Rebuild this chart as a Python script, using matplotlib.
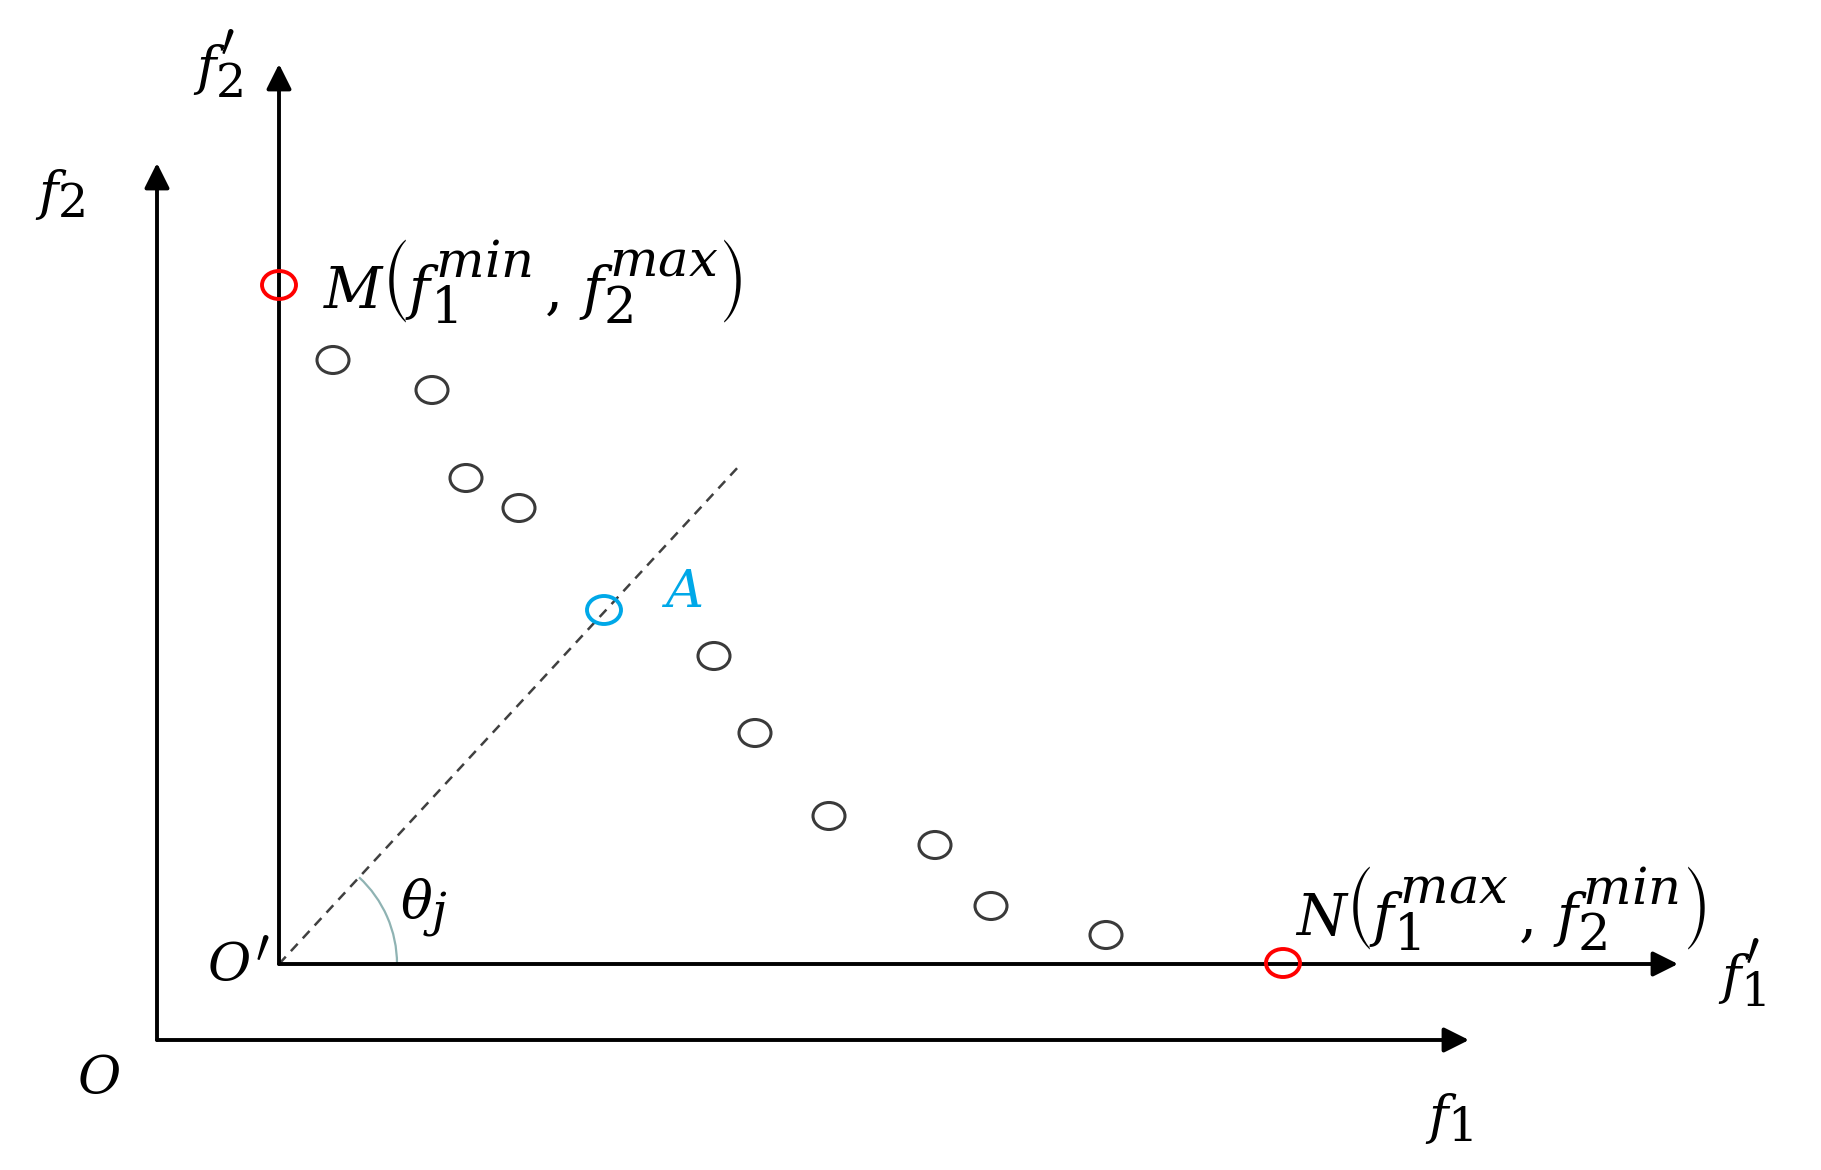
import matplotlib
matplotlib.use("Agg")
import matplotlib.pyplot as plt
import matplotlib._mathtext as mtext
from matplotlib.patches import Ellipse, Arc
import numpy as np

plt.rcParams["mathtext.fontset"] = "dejavuserif"
# bigger sub/superscripts, closer to the Cambria Math look of the original
mtext.SHRINK_FACTOR = 0.9

# -----------------------------
# diagram data (units = pixels from outer origin O, y up)
# -----------------------------
origin_inner = (122, 76)            # O'
outer_x_end, outer_y_end = 1312, 877
inner_x_end, inner_y_end = 1521, 976

pareto_x = [176, 275, 309, 362, 557, 598, 672, 778, 834, 949]
pareto_y = [680, 650, 562, 532, 384, 307, 224, 195, 134, 105]

extreme_x = [122, 1126]             # M, N
extreme_y = [755, 77]

point_A = (447, 430)
ray_end = (583, 575)

fig = plt.figure(figsize=(18.21, 11.70), dpi=100)
ax = fig.add_axes([0, 0, 1, 1])
ax.set_xlim(-157, 1821 - 157)
ax.set_ylim(1040 - 1170, 1040)
ax.axis("off")

def arrow(x0, y0, x1, y1):
    ax.annotate("", xy=(x1, y1), xytext=(x0, y0),
                arrowprops=dict(arrowstyle="-|>", lw=2.8, color="black",
                                mutation_scale=38, shrinkA=0, shrinkB=0))

# outer axes f1, f2
arrow(0, 0, outer_x_end, 0)
arrow(0, 0, 0, outer_y_end)
# inner axes f1', f2'
ox, oy = origin_inner
arrow(ox, oy, inner_x_end, oy)
arrow(ox, oy, ox, inner_y_end)

# reference ray through A
ax.plot([ox, ray_end[0]], [oy, ray_end[1]], ls=(0, (4, 3)), color="#404040", lw=1.8)
ang = np.degrees(np.arctan2(ray_end[1] - oy, ray_end[0] - ox))
ax.add_patch(Arc((ox, oy), 236, 236, theta1=0, theta2=ang, color="#8fb3b3", lw=1.6))

for x, y in zip(pareto_x, pareto_y):
    ax.add_patch(Ellipse((x, y), 32, 27, fill=False, ec="#3a3a3a", lw=2.2, zorder=3))
for x, y in zip(extreme_x, extreme_y):
    ax.add_patch(Ellipse((x, y), 34, 28, fill=False, ec="#ff0000", lw=2.8, zorder=3))
ax.add_patch(Ellipse(point_A, 34, 28, fill=False, ec="#00a8e8", lw=2.8, zorder=3))

fs = 38
fs_pt = 41
ax.text(-97, 845, r"$f_2$", fontsize=fs, ha="center", va="center")
ax.text(61, 976, r"$f_2'$", fontsize=fs, ha="center", va="center")
ax.text(166, 758, r"$M\left(f_1^{min}\,,\,f_2^{max}\right)$", fontsize=fs_pt, ha="left", va="center")
ax.text(525, 448, r"$\mathbf{\mathit{A}}$", fontsize=fs, color="#00a8e8", ha="center", va="center")
ax.text(267, 132, r"$\theta_j$", fontsize=fs, ha="center", va="center")
ax.text(81, 74, r"$O'$", fontsize=fs, ha="center", va="center")
ax.text(1138, 131, r"$N\left(f_1^{max}\,,\,f_2^{min}\right)$", fontsize=fs_pt, ha="left", va="center")
ax.text(1585, 67, r"$f_1'$", fontsize=fs, ha="center", va="center")
ax.text(-58, -38, r"$O$", fontsize=fs, ha="center", va="center")
ax.text(1292, -78, r"$f_1$", fontsize=fs, ha="center", va="center")

fig.savefig("out.png", dpi=100, facecolor="white")
